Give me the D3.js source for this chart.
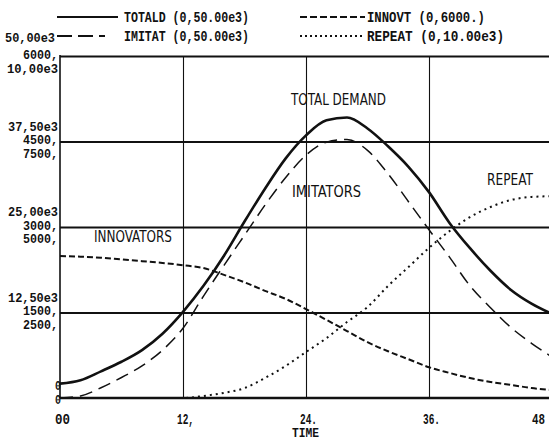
<!DOCTYPE html>
<html><head><meta charset="utf-8">
<script src="https://cdn.jsdelivr.net/npm/d3@7"></script>
<style>html,body{margin:0;padding:0;background:#fff;}svg{display:block;}</style>
</head><body><svg id="c" width="549" height="441"></svg>
<script>
// ---- data ----
const time    = [0,2,4,6,8,10,12,14,16,18,20,22,24,26,28,30,32,34,36,38,40,42,44,46,48];
const totald  = [2100,2600,3900,5300,7000,9400,12600,16400,20800,25800,30600,35000,38400,40600,41000,39400,36800,33800,30100,25600,21900,18600,15800,13800,12300];
const imitat  = [0,300,1500,3000,4700,7000,10200,14900,19400,23800,28200,32200,35500,37400,37800,36200,32800,28700,24600,20600,16400,13200,10300,8000,6000];
const innovt  = [2490,2480,2460,2430,2400,2370,2330,2280,2160,2030,1880,1740,1560,1370,1175,980,820,680,540,440,350,280,230,175,140];
const repeat  = [0,0,0,0,0,0,0,60,150,290,585,935,1345,1750,2220,2660,3275,3830,4390,4880,5290,5585,5790,5880,5900];
const gridTot = [12500,25000,37500,50000];
const totLabels = ["12,50e3","25,00e3","37,50e3","50,00e3"];
const innLabels = ["1500,","3000,","4500,","6000,"];
const repLabels = ["2500,","5000,","7500,","10,00e3"];
const xTicks = [0,12,24,36,48];
const xLabels = ["00","12,","24.","36.","48"];
const legendNames = ["TOTALD (0,50.00e3)","IMITAT (0,50.00e3)","INNOVT (0,6000.)","REPEAT (0,10.00e3)"];
const annotations = ["TOTAL DEMAND","IMITATORS","INNOVATORS","REPEAT"];

const svg = d3.select("#c");
const L=60, R=552, B=398, T=56;
const x = d3.scaleLinear().domain([0,48]).range([L,R]);
const yTot = d3.scaleLinear().domain([0,50000]).range([B,T]);
const yInn = d3.scaleLinear().domain([0,6000]).range([B,T]);
const yRep = d3.scaleLinear().domain([0,10000]).range([B,T]);

const MONO = "'Liberation Mono','DejaVu Sans Mono',monospace";
function mono(str,px,py,anchor,w,size){
  const t = svg.append("text").attr("x",px).attr("y",py).text(str)
    .attr("font-family",MONO).attr("font-weight","bold").attr("font-size",size||13)
    .attr("text-anchor",anchor||"start").attr("fill","#111");
  if(w) t.attr("textLength",w).attr("lengthAdjust","spacingAndGlyphs");
  return t;
}

// ---- grid via d3 axes ----
const gx = svg.append("g").attr("transform",`translate(0,${B})`)
  .call(d3.axisBottom(x).tickValues([12,24,36]).tickSize(-(B-T)).tickFormat(""));
gx.select(".domain").remove();
gx.selectAll("line").attr("stroke","#111").attr("stroke-width",1.1);

const gy = svg.append("g").attr("transform",`translate(${L},0)`)
  .call(d3.axisLeft(yTot).tickValues(gridTot).tickSize(-(549-L)).tickFormat(""));
gy.select(".domain").remove();
gy.selectAll("line").attr("stroke","#111").attr("stroke-width",2);

// frame: left axis and bottom axis
svg.append("line").attr("x1",L).attr("x2",L).attr("y1",T-1).attr("y2",B).attr("stroke","#111").attr("stroke-width",1.6);
svg.append("line").attr("x1",L).attr("x2",549).attr("y1",B).attr("y2",B).attr("stroke","#111").attr("stroke-width",2.6);

// ---- curves ----
function line(ys, scale){
  return d3.line().x((d,i)=>x(time[i])).y(d=>scale(d)).curve(d3.curveMonotoneX)(ys);
}
svg.append("path").attr("d",line(repeat,yRep)).attr("fill","none").attr("stroke","#111").attr("stroke-width",2).attr("stroke-dasharray","2,4");
svg.append("path").attr("d",line(innovt,yInn)).attr("fill","none").attr("stroke","#111").attr("stroke-width",2).attr("stroke-dasharray","6,3");
svg.append("path").attr("d",line(imitat,yTot)).attr("fill","none").attr("stroke","#111").attr("stroke-width",1.5).attr("stroke-dasharray","13,7");
svg.append("path").attr("d",line(totald,yTot)).attr("fill","none").attr("stroke","#111").attr("stroke-width",2.6);

// ---- left labels ----
gridTot.forEach((v,i)=>{
  const yl = yTot(v);
  if(i===3){
    mono(totLabels[i],55,42,"end",50);
    mono(innLabels[i],58,59,"end",35);
    mono(repLabels[i],58,72.5,"end",51);
  } else {
    mono(totLabels[i],58,yl-11,"end",50);
    mono(innLabels[i],58,yl+2.5,"end",35);
    mono(repLabels[i],58,yl+16,"end",35);
  }
});
mono("0",61,yTot(0)-8,"end",6);
mono("0",61,yTot(0)+6,"end",6);

// ---- x labels ----
xTicks.forEach((t,i)=>{
  const px = x(t);
  if(i===0) mono(xLabels[i],55,424,"start",15,14);
  else if(i===4) mono(xLabels[i],545,424,"end",13,14);
  else mono(xLabels[i],px-6,424,"start",17,14);
});
mono("TIME",x(24)-14,436.5,"start",27,12);

// ---- legend ----
svg.append("line").attr("x1",57).attr("x2",118).attr("y1",17).attr("y2",17).attr("stroke","#111").attr("stroke-width",2);
mono(legendNames[0],124,22,"start",125,15);
svg.append("line").attr("x1",57).attr("x2",118).attr("y1",36).attr("y2",36).attr("stroke","#111").attr("stroke-width",2).attr("stroke-dasharray","15,6,15,6,6,100");
mono(legendNames[1],124,41,"start",125,15);
svg.append("line").attr("x1",300).attr("x2",365).attr("y1",17).attr("y2",17).attr("stroke","#111").attr("stroke-width",2).attr("stroke-dasharray","7,3");
mono(legendNames[2],367,22,"start",118,15);
svg.append("line").attr("x1",300).attr("x2",365).attr("y1",36).attr("y2",36).attr("stroke","#111").attr("stroke-width",2).attr("stroke-dasharray","2,3");
mono(legendNames[3],367,41,"start",137,15);

// ---- annotations ----
const SANS = "'Liberation Sans Narrow','DejaVu Sans Condensed','Liberation Sans',sans-serif";
const annPos = [[291,105,95],[292,197,69],[94,242,78],[487,185,46]];
annotations.forEach((s,i)=>{
  svg.append("text").attr("x",annPos[i][0]).attr("y",annPos[i][1]).text(s)
    .attr("font-family",SANS).attr("font-size",16).attr("fill","#111")
    .attr("textLength",annPos[i][2]).attr("lengthAdjust","spacingAndGlyphs");
});
</script></body></html>
